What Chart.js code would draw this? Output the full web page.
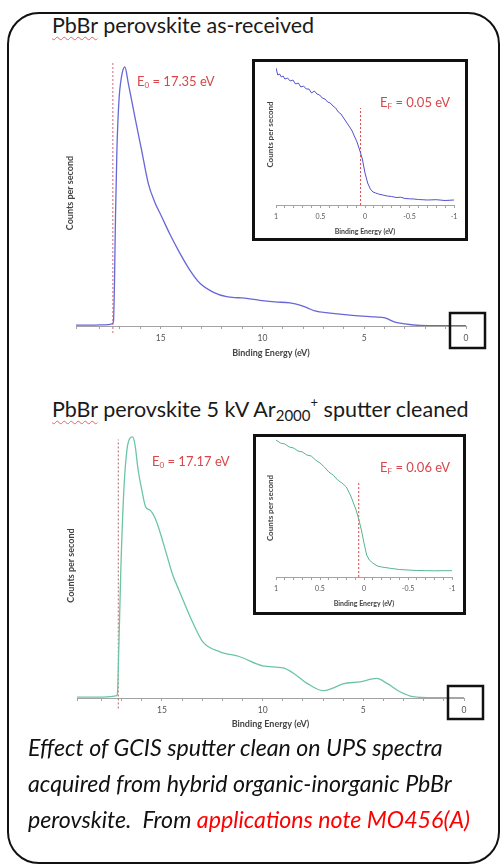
<!DOCTYPE html>
<html>
<head>
<meta charset="utf-8">
<script src="https://cdn.jsdelivr.net/npm/chart.js@4.4.1/dist/chart.umd.min.js"></script>
<style>
  html, body { margin: 0; padding: 0; background: #fff; }
  body { width: 503px; height: 867px; position: relative; overflow: hidden; font-family: Lato, "Open Sans", sans-serif; }
  .frame { position: absolute; left: 7px; top: 12px; width: 493px; height: 852px; border: 2px solid #111; border-radius: 32px; box-sizing: border-box; }
  .title { position: absolute; left: 52px; font-size: 21.5px; color: #1a1a1a; white-space: nowrap; }
  .title .spell { text-decoration: underline wavy #e06a6a; text-decoration-thickness: 1px; text-underline-offset: 3px; }
  .title sub { font-size: 15px; vertical-align: -4px; line-height: 0; }
  .title sup { font-size: 13px; vertical-align: 10px; line-height: 0; }
  canvas { position: absolute; }
  .inset { position: absolute; border: 3px solid #111; background: #fff; box-sizing: border-box; }
  .inset canvas { left: 0; top: 0; }
  .caption { position: absolute; left: 28px; top: 729px; font-style: italic; font-size: 23.2px; line-height: 36px; color: #111; white-space: nowrap; }
  .caption .link { color: #ff0000; }
</style>
</head>
<body>
<div class="frame"></div>

<div class="title" style="top:12px"><span class="spell">PbBr</span> perovskite as-received</div>
<canvas id="mainAs" width="432" height="310" style="left:58px; top:50px"></canvas>
<div class="inset" style="left:252px; top:59px; width:216px; height:182px">
  <canvas id="insetAs" width="210" height="176"></canvas>
</div>

<div class="title" style="top:396px"><span class="spell">PbBr</span> perovskite 5 kV Ar<sub>2000</sub><sup>+</sup> sputter cleaned</div>
<canvas id="mainClean" width="432" height="310" style="left:58px; top:420px"></canvas>
<div class="inset" style="left:253px; top:434px; width:213px; height:181px">
  <canvas id="insetClean" width="207" height="175"></canvas>
</div>

<div class="caption">Effect of GCIS sputter clean on UPS spectra<br>acquired from hybrid organic-inorganic PbBr<br>perovskite.&nbsp; From <span class="link">applications note MO456(A)</span></div>

<script>
// as-received spectrum (binding energy eV, counts in % of peak)
const energyAs = [19.16, 18.6, 18.0, 17.6, 17.4, 17.32, 17.27, 17.22, 17.15, 17.05, 16.93, 16.76, 16.59, 16.27, 15.94,
  15.61, 15.3, 14.95, 14.55, 14.14, 13.6, 13.07, 12.4, 11.76, 11.2, 10.78, 10.12, 9.39, 8.65, 8.16, 7.8, 7.42,
  6.68, 5.7, 4.47, 3.98, 3.49, 3.0, 2.26, 1.28, 0];
const countsAs = [0.3, 0.3, 0.4, 0.5, 0.8, 1.7, 16.5, 42, 68, 87, 96, 100, 93.7, 80.8, 68,
  55.1, 48, 42.2, 35.5, 29.3, 22, 16.5, 13, 11.3, 10.9, 10.7, 9.9, 9.3, 8.9, 8.1, 7, 5.8,
  5.0, 4.2, 3.5, 3.1, 1.5, 0.8, 0.2, 0.1, 0.1];

// as-received Fermi edge
const edgeEnergyAs = [1.0, 0.98, 0.96, 0.94, 0.92, 0.9, 0.87, 0.84, 0.81, 0.78, 0.75, 0.72, 0.69, 0.66, 0.63, 0.6,
  0.57, 0.54, 0.51, 0.48, 0.45, 0.42, 0.39, 0.36, 0.33, 0.3, 0.27, 0.24, 0.21, 0.18, 0.15, 0.12, 0.09, 0.06,
  0.03, 0.0, -0.03, -0.06, -0.09, -0.12, -0.15, -0.2, -0.25, -0.3, -0.35, -0.4, -0.45, -0.5, -0.55, -0.6,
  -0.7, -0.8, -0.9, -1.0];
const edgeCountsAs = [137, 130, 131, 128, 129, 126, 127, 124, 125, 121, 122, 118, 119, 116, 116, 112,
  114, 111, 110, 107, 106, 103, 102, 99, 97, 93, 91, 87, 83, 79, 75, 69, 63, 55,
  46, 32, 22, 16, 13, 12, 11, 10, 9, 8.5, 7.5, 7.8, 6.5, 6.2, 6, 5.5,
  5, 5.3, 4.5, 5];

// sputter cleaned spectrum
const energyClean = [19.22, 18.33, 17.59, 17.3, 17.22, 17.14, 17.04, 16.89, 16.74, 16.59, 16.46, 16.34, 16.19,
  16.01, 15.8, 15.6, 15.35, 15.1, 14.77, 14.46, 14.16, 13.46, 12.97, 12.12, 11.13, 9.99, 8.99, 8.49, 7.81,
  7.0, 6.51, 6.01, 5.17, 4.34, 3.84, 3.18, 2.53, 1.54, 0];
const countsClean = [0.3, 0.3, 0.5, 0.8, 1.2, 20, 50, 80, 95, 99.5, 100, 97, 87.7,
  80, 73, 72, 69, 63.6, 55, 47, 41.4, 28.7, 21.5, 17.7, 15.8, 12.3, 11.5, 9.6, 5.7,
  2.8, 3.8, 5.4, 6.2, 7.5, 5.7, 2.4, 0.5, 0.1, 0.1];

// sputter cleaned Fermi edge
const edgeEnergyClean = [1.0, 0.95, 0.9, 0.85, 0.8, 0.75, 0.7, 0.65, 0.6, 0.55, 0.5, 0.45, 0.4, 0.35, 0.3, 0.25,
  0.2, 0.15, 0.12, 0.09, 0.06, 0.03, 0.0, -0.03, -0.06, -0.1, -0.15, -0.2, -0.3, -0.4, -0.5, -0.6, -0.7,
  -0.8, -0.9, -1.0];
const edgeCountsClean = [137, 134, 133, 130, 129, 126, 125, 122, 121, 117, 114, 110, 105, 102, 97, 94,
  90, 81, 74, 67, 58, 47, 34, 22, 17, 14, 11, 10, 8.7, 7.5, 7, 6.5, 6.3,
  6.2, 6.3, 6.3];

const cutoffAs = 17.35;
const fermiAs = 0.05;
const cutoffClean = 17.17;
const fermiClean = 0.06;

const wideTicks = [0, 5, 10, 15];
const edgeTicks = [1, 0.5, 0, -0.5, -1];

const axisGrey = "#a3a3a3";
const tickColor = "#555";
const labelRed = "#d8474b";

function toPoints(xs, ys) {
  return xs.map((x, i) => ({ x, y: ys[i] }));
}

// draws the "E0 = ..." / "EF = ..." note and the little box round zero
const notePlugin = {
  id: "note",
  afterDraw(chart, args, o) {
    if (!o.value) return;
    const { ctx } = chart;
    ctx.save();
    ctx.fillStyle = labelRed;
    ctx.textBaseline = "middle";
    let x = o.x;
    ctx.font = `${o.size}px Lato`;
    ctx.fillText("E", x, o.y);
    x += ctx.measureText("E").width;
    ctx.font = `${o.size * 0.62}px Lato`;
    ctx.fillText(o.sub, x, o.y + o.size * 0.3);
    x += ctx.measureText(o.sub).width;
    ctx.font = `${o.size}px Lato`;
    ctx.fillText(" = " + o.value + " eV", x, o.y);
    if (o.box) {
      const px = chart.scales.x.getPixelForValue(0);
      const py = chart.chartArea.bottom;
      ctx.strokeStyle = "#111";
      ctx.lineWidth = 2.5;
      ctx.strokeRect(px - 16, py + o.box[0], 35, o.box[1]);
    }
    ctx.restore();
  }
};

function spectrumChart(canvas, cfg) {
  return new Chart(canvas, {
    type: "line",
    data: {
      datasets: [
        {
          data: cfg.points,
          borderColor: cfg.color,
          borderWidth: cfg.lineWidth,
          pointRadius: 0,
          cubicInterpolationMode: cfg.smooth ? "monotone" : "default",
          tension: 0
        },
        {
          data: [{ x: cfg.marker, y: cfg.markerFrom }, { x: cfg.marker, y: cfg.markerTo }],
          borderColor: cfg.markerColor,
          borderWidth: 1,
          borderDash: [2, 2],
          pointRadius: 0,
          clip: false
        }
      ]
    },
    options: {
      responsive: false,
      animation: false,
      events: [],
      layout: { padding: cfg.padding },
      plugins: {
        legend: { display: false },
        tooltip: { enabled: false },
        note: cfg.note
      },
      scales: {
        x: {
          type: "linear",
          reverse: true,
          min: cfg.xMin,
          max: cfg.xMax,
          afterFit(scale) { scale.height = cfg.xHeight; },
          ticks: {
            stepSize: cfg.step,
            autoSkip: false,
            maxRotation: 0,
            color: tickColor,
            padding: cfg.tickPad,
            font: { family: "Lato", size: cfg.tickSize },
            callback(v) {
              const hit = cfg.labels.find((t) => Math.abs(t - v) < 1e-6);
              return hit === undefined ? "" : String(hit);
            }
          },
          grid: { drawOnChartArea: false, tickLength: 3, color: axisGrey },
          border: { color: axisGrey },
          title: {
            display: true,
            text: "Binding Energy (eV)",
            color: "#444",
            font: { family: "Lato", size: cfg.titleSize, weight: "bold" },
            padding: { top: 0, bottom: cfg.xTitlePad }
          }
        },
        y: {
          min: 0,
          max: cfg.yMax,
          afterFit(scale) { scale.width = cfg.yWidth; },
          ticks: { display: false },
          grid: { display: false },
          border: { display: false },
          title: {
            display: true,
            text: "Counts per second",
            color: "#444",
            font: { family: "Lato", size: cfg.yTitleSize, weight: "bold" },
            padding: { top: cfg.yTitlePad, bottom: 0 }
          }
        }
      }
    },
    plugins: [notePlugin]
  });
}

spectrumChart(document.getElementById("mainAs"), {
  points: toPoints(energyAs, countsAs),
  color: "#6767d8", lineWidth: 1.3, smooth: true,
  marker: cutoffAs, markerFrom: -2.7, markerTo: 101.5, markerColor: "#cf6a82",
  xMin: 0, xMax: 19.16, step: 1, labels: wideTicks, yMax: 102.7,
  padding: { top: 10, right: 24, left: 0, bottom: 0 },
  xHeight: 34, yWidth: 18, xTitlePad: 1.5, yTitlePad: 6.5,
  tickSize: 8.5, tickPad: 4.5, titleSize: 9, yTitleSize: 9,
  note: { value: "17.35", sub: "0", x: 79, y: 32, size: 13, box: [-13, 35] }
});

spectrumChart(document.getElementById("insetAs"), {
  points: toPoints(edgeEnergyAs, edgeCountsAs),
  color: "#5252c9", lineWidth: 1, smooth: false,
  marker: fermiAs, markerFrom: 0, markerTo: 97, markerColor: "#e0474b",
  xMin: -1, xMax: 1, step: 0.1, labels: edgeTicks, yMax: 141,
  padding: { top: 2, right: 11, left: 0, bottom: 0 },
  xHeight: 33, yWidth: 21, xTitlePad: 2, yTitlePad: 11,
  tickSize: 7, tickPad: 5, titleSize: 7, yTitleSize: 8,
  note: { value: "0.05", sub: "F", x: 125, y: 41, size: 13 }
});

spectrumChart(document.getElementById("mainClean"), {
  points: toPoints(energyClean, countsClean),
  color: "#6cc5a5", lineWidth: 1.3, smooth: true,
  marker: cutoffClean, markerFrom: -4, markerTo: 99, markerColor: "#b06a6a",
  xMin: 0, xMax: 19.22, step: 1, labels: wideTicks, yMax: 101.5,
  padding: { top: 13, right: 26, left: 0, bottom: 0 },
  xHeight: 32, yWidth: 19, xTitlePad: 0.5, yTitlePad: 7.5,
  tickSize: 8.5, tickPad: 4.5, titleSize: 9, yTitleSize: 9,
  note: { value: "17.17", sub: "0", x: 94, y: 42, size: 13, box: [-12, 33] }
});

spectrumChart(document.getElementById("insetClean"), {
  points: toPoints(edgeEnergyClean, edgeCountsClean),
  color: "#55b593", lineWidth: 1, smooth: false,
  marker: fermiClean, markerFrom: 0, markerTo: 95, markerColor: "#e0474b",
  xMin: -1, xMax: 1, step: 0.1, labels: edgeTicks, yMax: 138,
  padding: { top: 2, right: 11, left: 0, bottom: 0 },
  xHeight: 35, yWidth: 20, xTitlePad: 4.5, yTitlePad: 10,
  tickSize: 7, tickPad: 5, titleSize: 7, yTitleSize: 8,
  note: { value: "0.06", sub: "F", x: 124, y: 31, size: 13 }
});
</script>
</body>
</html>
